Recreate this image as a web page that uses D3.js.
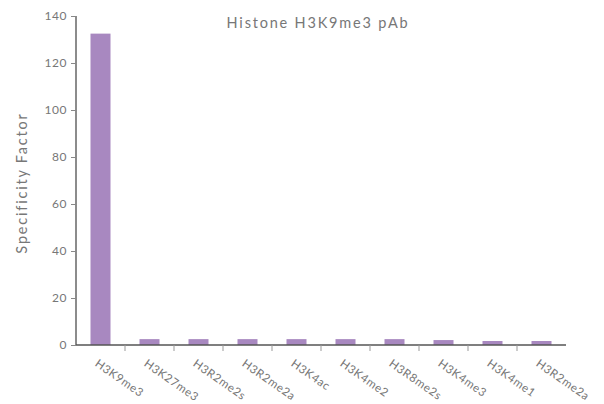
<!DOCTYPE html>
<html>
<head>
<meta charset="utf-8">
<script src="https://cdn.jsdelivr.net/npm/d3@7"></script>
<style>
	body { margin: 0; background: #fff; }
	text { font-family: 'Lato', 'DejaVu Sans', sans-serif; fill: #777; }
</style>
</head>
<body>
<div id="chart"></div>
<script>
var title = 'Histone H3K9me3 pAb';
var yLabel = 'Specificity Factor';
var categories = ['H3K9me3', 'H3K27me3', 'H3R2me2s', 'H3R2me2a', 'H3K4ac', 'H3K4me2', 'H3R8me2s', 'H3K4me3', 'H3K4me1', 'H3R2me2a '];
var values = [132.5, 2.5, 2.5, 2.5, 2.5, 2.5, 2.5, 2.1, 1.7, 1.7];
var yTicks = [0, 20, 40, 60, 80, 100, 120, 140];

var svg = d3.select('#chart').append('svg').attr('width', 604).attr('height', 404);

var xScale = d3.scaleBand()
	.domain(categories)
	.range([76, 566]);

var yScale = d3.scaleLinear()
	.domain([0, 140])
	.range([345, 16]);

// bars
svg.append('g').selectAll('rect')
	.data(values)
	.enter().append('rect')
	.attr('x', function(d, i) { return xScale(categories[i]) + xScale.bandwidth() / 2 - 10; })
	.attr('y', function(d) { return yScale(d); })
	.attr('width', 20)
	.attr('height', function(d) { return yScale(0) - yScale(d); })
	.attr('fill', '#a888c0');

// y axis
var yAxisG = svg.append('g')
	.attr('transform', 'translate(76,0)')
	.call(d3.axisLeft(yScale).tickValues(yTicks).tickSize(5).tickPadding(4));
yAxisG.select('.domain').attr('stroke', '#666').attr('stroke-width', 1.5).attr('d', 'M0,16V345');
yAxisG.selectAll('.tick line').attr('stroke', '#888');
yAxisG.selectAll('.tick text').style('font-size', '12px').style('fill', '#777').style('letter-spacing', '0.5px');

// x axis: ticks between bands
var xAxisG = svg.append('g').attr('transform', 'translate(0,345)');
xAxisG.append('line')
	.attr('x1', 76).attr('x2', 566)
	.attr('stroke', '#555').attr('stroke-width', 1.5);
xAxisG.selectAll('.xtick')
	.data(categories.slice(1))
	.enter().append('line')
	.attr('x1', function(d) { return xScale(d); })
	.attr('x2', function(d) { return xScale(d); })
	.attr('y1', 0).attr('y2', 6)
	.attr('stroke', '#999');

xAxisG.selectAll('.xlabel')
	.data(categories)
	.enter().append('text')
	.attr('transform', function(d) {
		return 'translate(' + (xScale(d) + xScale.bandwidth() / 2 - 4) + ',17) rotate(35)';
	})
	.attr('text-anchor', 'start')
	.attr('dy', '0.35em')
	.style('font-size', '11.5px')
	.style('letter-spacing', '0.6px')
	.text(function(d) { return d.trim(); });

// title
svg.append('text')
	.attr('x', 318)
	.attr('y', 28)
	.attr('text-anchor', 'middle')
	.style('font-size', '14.5px')
	.style('letter-spacing', '1.8px')
	.style('fill', '#777')
	.text(title);

// y label
svg.append('text')
	.attr('transform', 'translate(27,183) rotate(-90)')
	.attr('text-anchor', 'middle')
	.style('font-size', '14.5px')
	.style('letter-spacing', '1.8px')
	.style('fill', '#777')
	.text(yLabel);
</script>
</body>
</html>
